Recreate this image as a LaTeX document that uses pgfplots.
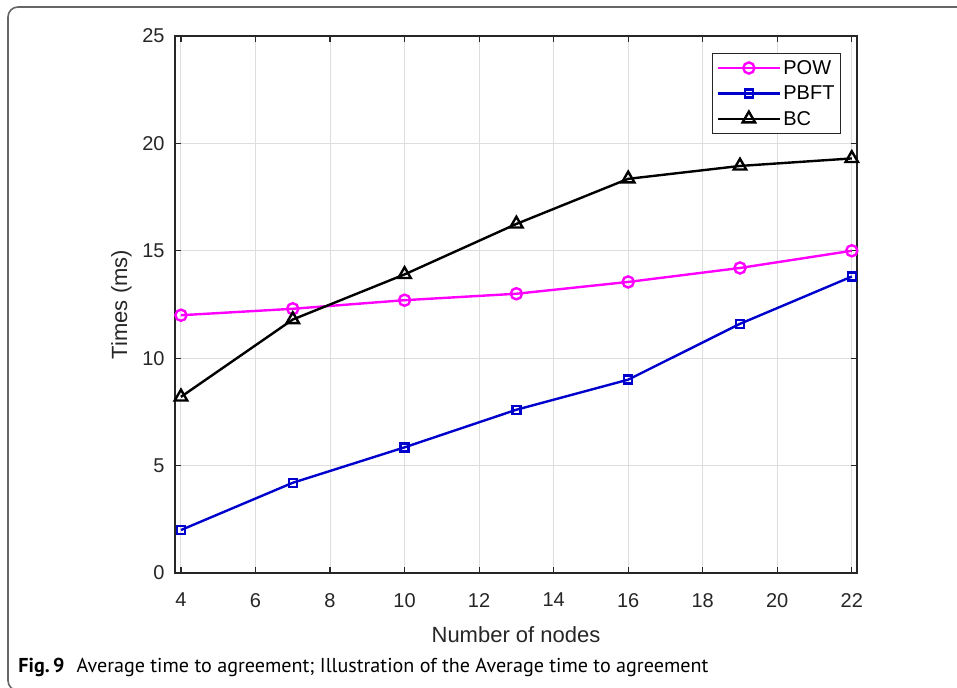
\documentclass[border=0pt]{standalone}
\usepackage{fontspec}
\setmainfont{Liberation Sans}
\newfontfamily\capfont{PT Sans}
\usepackage{pgfplots}
\pgfplotsset{compat=1.18}
\definecolor{pbft}{rgb}{0,0,0.8}
\definecolor{pow}{rgb}{1,0,1}
\definecolor{axgray}{gray}{0.15}
\definecolor{gridgray}{gray}{0.87}
\definecolor{framegray}{gray}{0.4}
\begin{document}
\begin{tikzpicture}
\useasboundingbox (-87.5pt,-57.5pt) rectangle (391pt,286.5pt);
\draw[framegray,line width=0.8pt,rounded corners=5pt] (395pt,283pt) -- (-83.5pt,283pt) -- (-83.5pt,-58.8pt) -- (-70pt,-58.8pt);
\begin{axis}[
  scale only axis, width=341pt, height=268.5pt,
  xmin=3.84, xmax=22.14, ymin=0, ymax=25,
  xtick={4,6,...,22}, ytick={0,5,...,25},
  grid=major, major grid style={gridgray, line width=0.5pt},
  axis line style={axgray, line width=0.6pt},
  tick style={axgray, line width=0.6pt}, tick align=inside, major tick length=3pt,
  ticklabel style={font=\fontsize{10}{12}\selectfont, text=axgray},
  /pgf/number format/assume math mode=true,
  xticklabel style={yshift=-6.5pt},
  yticklabel style={xshift=-1.7pt},
  legend style={at={(axis description cs:0.9765,0.9683)}, anchor=north east,
    draw=axgray, line width=0.5pt, font=\fontsize{10}{12}\selectfont,
    inner sep=2pt, row sep=2.2pt,
    nodes={inner sep=1pt, text height=7.5pt, text depth=1pt},
    cells={anchor=west}},
  legend image code/.code={\draw[mark repeat=2,mark phase=2] plot coordinates {(0cm,0cm)(0.55cm,0cm)(1.1cm,0cm)};},
]
\addplot[pow, line width=1.2pt, mark=o, mark size=2.8pt, mark options={solid}] coordinates {(4,12.0)(7,12.3)(10,12.7)(13,13.0)(16,13.55)(19,14.2)(22,15.0)};
\addlegendentry{POW}
\addplot[pbft, line width=1.2pt, mark=square, mark size=2pt, mark options={solid}] coordinates {(4,2.0)(7,4.2)(10,5.85)(13,7.6)(16,9.0)(19,11.6)(22,13.8)};
\addlegendentry{PBFT}
\addplot[black, line width=1.2pt, mark=triangle, mark size=3.6pt, mark options={solid}] coordinates {(4,8.2)(7,11.8)(10,13.9)(13,16.25)(16,18.35)(19,18.95)(22,19.3)};
\addlegendentry{BC}
\end{axis}
\node[anchor=base, font=\fontsize{11}{13}\selectfont, text=axgray, inner sep=0] at (170.5pt,-35pt) {Number of nodes};
\node[rotate=90, anchor=center, font=\fontsize{11}{13}\selectfont, text=axgray, inner sep=0] at (-26.75pt,134.25pt) {Times (ms)};
\node[anchor=base west, inner sep=0, font=\capfont\fontsize{10.05}{12}\selectfont] at (-78.5pt,-50pt) {\textbf{Fig.\,9}\hspace{0.6em}Average time to agreement; Illustration of the Average time to agreement};
\end{tikzpicture}
\end{document}
